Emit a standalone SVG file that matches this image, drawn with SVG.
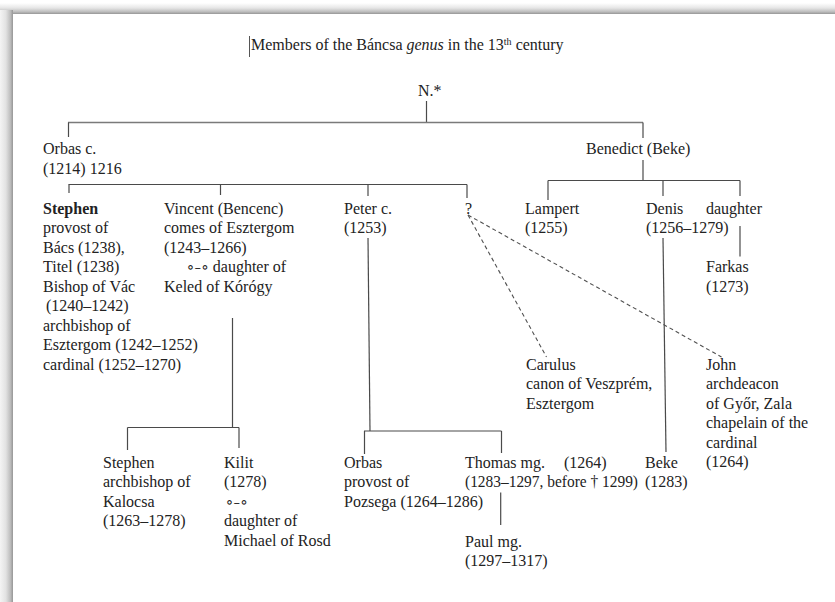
<svg xmlns="http://www.w3.org/2000/svg" width="835" height="602" viewBox="0 0 835 602">
<defs>
<linearGradient id="shTop" x1="0" y1="0" x2="0" y2="1">
<stop offset="0" stop-color="#ffffff"/>
<stop offset="0.45" stop-color="#e6e6e6"/>
<stop offset="0.8" stop-color="#bdbdbd"/>
<stop offset="1" stop-color="#969696"/>
</linearGradient>
<linearGradient id="shLeft" x1="0" y1="0" x2="1" y2="0">
<stop offset="0" stop-color="#f4f4f4"/>
<stop offset="0.45" stop-color="#e2e2e2"/>
<stop offset="0.8" stop-color="#bdbdbd"/>
<stop offset="1" stop-color="#969696"/>
</linearGradient>
</defs>
<style>
text{font-family:"Liberation Serif","Times New Roman",serif;font-size:16px;fill:#222}
.b{font-weight:bold}
.sym{font-family:"DejaVu Sans",sans-serif;font-size:13px;letter-spacing:-1.5px}
.ln{stroke:#4a4a4a;stroke-width:1.2;fill:none}
.top{stroke:#7a7a7a;stroke-width:1.6}
.dash{stroke:#505050;stroke-width:1.1;stroke-dasharray:4 3;fill:none}
</style>
<rect width="835" height="602" fill="#fff"/>
<rect x="0" y="3" width="835" height="11" fill="url(#shTop)"/>
<rect x="0" y="10" width="13" height="592" fill="url(#shLeft)"/>
<g id="title">
<line x1="249.5" y1="36" x2="249.5" y2="57" stroke="#555" stroke-width="1"/>
<text x="251" y="50">Members of the Báncsa <tspan font-style="italic">genus</tspan> in the 13<tspan font-size="10" dy="-5">th</tspan><tspan dy="5"> century</tspan></text>
</g>
<g id="connectors">
<line class="ln" x1="426.5" y1="101" x2="426.5" y2="122.5"/>
<line class="ln top" x1="68" y1="122.5" x2="643" y2="122.5"/>
<line class="ln" x1="68.5" y1="122.5" x2="68.5" y2="137"/>
<line class="ln" x1="643" y1="122.5" x2="643" y2="138"/>
<line class="ln" x1="68.5" y1="184.5" x2="467" y2="184.5"/>
<line class="ln" x1="69" y1="184.5" x2="69" y2="193"/>
<line class="ln" x1="220.5" y1="184.5" x2="220.5" y2="195"/>
<line class="ln" x1="368" y1="184.5" x2="368" y2="196"/>
<line class="ln" x1="467" y1="184.5" x2="467" y2="198"/>
<line class="ln" x1="643" y1="160" x2="643" y2="180.5"/>
<line class="ln" x1="548" y1="180.5" x2="740" y2="180.5"/>
<line class="ln" x1="548" y1="180.5" x2="548" y2="200"/>
<line class="ln" x1="663" y1="180.5" x2="663" y2="196"/>
<line class="ln" x1="740" y1="180.5" x2="740" y2="196"/>
<line class="ln" x1="740" y1="226" x2="740" y2="256.5"/>
<line class="ln" x1="663" y1="238" x2="666" y2="452"/>
<line class="ln" x1="368" y1="238" x2="370" y2="431"/>
<line class="ln" x1="364" y1="431" x2="501.5" y2="431"/>
<line class="ln" x1="364.5" y1="431" x2="364.5" y2="454"/>
<line class="ln" x1="501.5" y1="431" x2="501.5" y2="453"/>
<line class="ln" x1="232.5" y1="318" x2="232.5" y2="427.5"/>
<line class="ln" x1="127.5" y1="427.5" x2="239" y2="427.5"/>
<line class="ln" x1="127.5" y1="427.5" x2="127.5" y2="450"/>
<line class="ln" x1="239" y1="427.5" x2="239" y2="448"/>
<line class="ln" x1="500.7" y1="492.5" x2="500.7" y2="525"/>
<line class="dash" x1="468" y1="215" x2="546.5" y2="357"/>
<line class="dash" x1="468" y1="215" x2="721.5" y2="357"/>
</g>
<g id="n-root"><text x="418" y="95.5">N.*</text></g>
<g id="orbas"><text x="43" y="154">Orbas c.</text><text x="43" y="173.5">(1214) 1216</text></g>
<g id="benedict"><text x="586" y="154">Benedict (Beke)</text></g>
<g id="stephen">
<text x="43" y="213.5" class="b">Stephen</text>
<text x="43" y="233">provost of</text>
<text x="43" y="252.5">Bács (1238),</text>
<text x="43" y="272">Titel (1238)</text>
<text x="43" y="291.5">Bishop of Vác</text>
<text x="46" y="311">(1240–1242)</text>
<text x="43" y="330.5">archbishop of</text>
<text x="43" y="350">Esztergom (1242–1252)</text>
<text x="43" y="369.5">cardinal (1252–1270)</text>
</g>
<g id="vincent">
<text x="164" y="213.5">Vincent (Bencenc)</text>
<text x="164" y="233">comes of Esztergom</text>
<text x="164" y="252.5">(1243–1266)</text>
<text x="185" y="272"><tspan class="sym">⚬–⚬</tspan> daughter of</text>
<text x="164" y="291.5">Keled of Kórógy</text>
</g>
<g id="peter"><text x="344" y="213.5">Peter c.</text><text x="344" y="233">(1253)</text></g>
<g id="unknown"><text x="465" y="213.5">?</text></g>
<g id="lampert"><text x="525" y="213.5">Lampert</text><text x="525" y="233">(1255)</text></g>
<g id="denis"><text x="646" y="213.5">Denis</text><text x="646" y="233">(1256–1279)</text></g>
<g id="daughter"><text x="706" y="213.5">daughter</text></g>
<g id="farkas"><text x="706" y="272">Farkas</text><text x="706" y="291.5">(1273)</text></g>
<g id="carulus">
<text x="526" y="369.5">Carulus</text>
<text x="526" y="389">canon of Veszprém,</text>
<text x="526" y="408.5">Esztergom</text>
</g>
<g id="john">
<text x="706" y="369.5">John</text>
<text x="706" y="389">archdeacon</text>
<text x="706" y="408.5">of Győr, Zala</text>
<text x="706" y="428">chapelain of the</text>
<text x="706" y="447.5">cardinal</text>
<text x="706" y="467">(1264)</text>
</g>
<g id="stephen2">
<text x="103" y="467.5">Stephen</text>
<text x="103" y="487">archbishop of</text>
<text x="103" y="506.5">Kalocsa</text>
<text x="103" y="526">(1263–1278)</text>
</g>
<g id="kilit">
<text x="224" y="467.5">Kilit</text>
<text x="224" y="487">(1278)</text>
<text x="224" y="506.5" class="sym">⚬–⚬</text>
<text x="224" y="526">daughter of</text>
<text x="224" y="545.5">Michael of Rosd</text>
</g>
<g id="orbas2">
<text x="344" y="467.5">Orbas</text>
<text x="344" y="487">provost of</text>
<text x="344" y="506.5">Pozsega (1264–1286)</text>
</g>
<g id="thomas">
<text x="465" y="467.5">Thomas mg.</text>
<text x="564" y="467.5">(1264)</text>
<text x="465" y="487" textLength="173" lengthAdjust="spacingAndGlyphs">(1283–1297, before † 1299)</text>
</g>
<g id="beke"><text x="645" y="467.5">Beke</text><text x="645" y="487">(1283)</text></g>
<g id="paul"><text x="465" y="546.5">Paul mg.</text><text x="465" y="566">(1297–1317)</text></g>
</svg>
